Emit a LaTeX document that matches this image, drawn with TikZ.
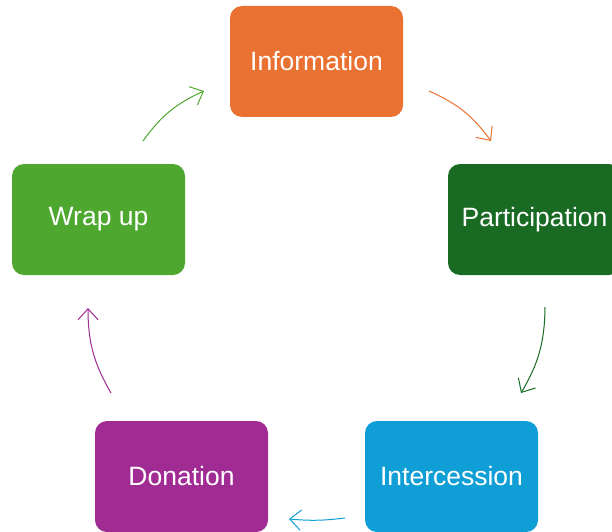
\documentclass[tikz,border=0pt]{standalone}
\usepackage{fontspec}
\setmainfont{Liberation Sans}
\usepackage{tikz}
\usetikzlibrary{arrows.meta}

\tikzset{
  stepbox/.style={rounded corners=12pt,minimum width=173pt,%
    minimum height=111pt,text=white,inner sep=0pt,%
    font=\fontsize{26.5}{30}\selectfont},
  cyc/.style={line width=1pt,bend left=15,%
    -{Straight Barb[length=11pt,width=20pt,line width=1pt]}}
}

\begin{document}
\begin{tikzpicture}[x=1pt,y=1pt]
          \useasboundingbox (0,0) rectangle (612,531);
          \clip (0,0) rectangle (612,531);
          % the five steps
          \node[stepbox,fill={rgb,255:red,233;green,113;blue,50}] %
            (info) at (316.5,469.5) {Information};
          \node[stepbox,fill={rgb,255:red,25;green,107;blue,36}] %
            (part) at (534.5,311.5) {Participation};
          \node[stepbox,fill={rgb,255:red,15;green,158;blue,213}] %
            (inter) at (451.5,54.5) {Intercession};
          \node[stepbox,fill={rgb,255:red,160;green,43;blue,147}] %
            (don) at (181.5,54.5) {Donation};
          \node[stepbox,fill={rgb,255:red,78;green,167;blue,46}] %
            (wrap) at (98.5,311.5) {Wrap up};
          % arrow ends
          \coordinate (a0) at (429,440);
          \coordinate (a1) at (491,390);
          \coordinate (b0) at (545,224);
          \coordinate (b1) at (521,138);
          \coordinate (c0) at (345,13);
          \coordinate (c1) at (289,12);
          \coordinate (d0) at (111,138);
          \coordinate (d1) at (88,223);
          \coordinate (e0) at (143,390);
          \coordinate (e1) at (204,440);
          \draw[cyc,color={rgb,255:red,233;green,113;blue,50}] %
            (a0) to (a1);
          \draw[cyc,color={rgb,255:red,25;green,107;blue,36}] %
            (b0) to (b1);
          \draw[cyc,bend left=6,color={rgb,255:red,15;green,158;blue,213}] %
            (c0) to (c1);
          \draw[cyc,color={rgb,255:red,160;green,43;blue,147}] %
            (d0) to (d1);
          \draw[cyc,color={rgb,255:red,78;green,167;blue,46}] %
            (e0) to (e1);
        \end{tikzpicture}
\end{document}
